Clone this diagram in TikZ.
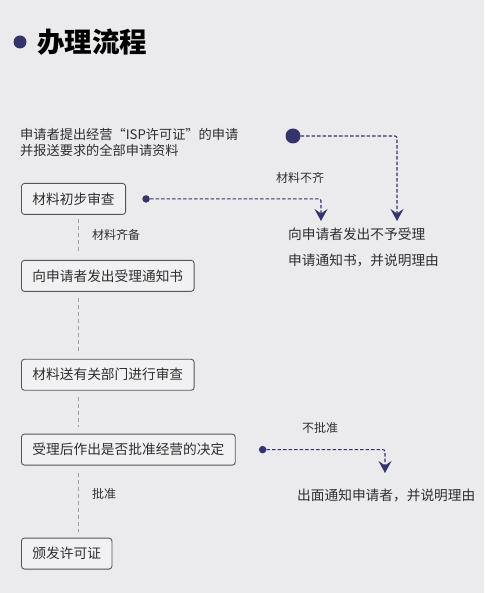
\documentclass[tikz,border=0pt]{standalone}
\usepackage{fontspec}
\setmainfont{Noto Sans CJK SC}
\usetikzlibrary{positioning,arrows.meta}
\definecolor{pagebg}{HTML}{EBEBEE}
\definecolor{ink}{HTML}{34336B}
\definecolor{boxline}{HTML}{555555}
\definecolor{txt}{HTML}{2E2E2E}
\tikzset{
stepbox/.style={
	draw=boxline, rounded corners=3pt, line width=0.9pt,
	fill=white!30!pagebg, text=txt, font=\fontsize{13.7}{16}\selectfont,
	inner xsep=11pt, minimum height=31pt},
note/.style={text=txt, font=\fontsize{12}{14}\selectfont, inner sep=0pt},
plain/.style={text=txt, font=\fontsize{13.7}{26}\selectfont, inner sep=0pt,
	align=left},
flow/.style={draw=gray!75, line width=0.9pt, dash pattern=on 4pt off 3pt},
reject/.style={draw=ink, line width=1.1pt, dash pattern=on 3.5pt off 2pt,
	rounded corners=2pt, -{Stealth[length=12pt,width=13pt,inset=4.5pt]}},
bigdot/.style={circle, fill=ink, minimum size=15pt, inner sep=0pt},
smalldot/.style={circle, fill=ink, minimum size=7.5pt, inner sep=0pt}
}

\begin{document}
\begin{tikzpicture}[x=1pt, y=1pt]
	\fill[pagebg] (0,0) rectangle (484,-593);
	\useasboundingbox (0,0) rectangle (484,-593);
	% title
	\node[circle, fill=ink, minimum size=13pt, inner sep=0pt] (bullet) at (20,-42) {};
	\node[anchor=west, inner sep=0pt, font=\fontsize{27.5}{30}\selectfont\bfseries]
		(title) at (37,-42) {办理流程};
	% application
	\node[plain, anchor=north west, font=\fontsize{13.2}{16}\selectfont]
		(apply) at (20,-128) {申请者提出经营“ISP许可证”的申请\\并报送要求的全部申请资料};
	\node[bigdot] (start) at (293,-136) {};
	% main chain
	\node[stepbox, anchor=north west] (check) at (21,-183) {材料初步审查};
	\node[stepbox, below=45pt of check.south west, anchor=north west] (accept) {向申请者发出受理通知书};
	\node[stepbox, below=67pt of accept.south west, anchor=north west] (review) {材料送有关部门进行审查};
	\node[stepbox, below=43pt of review.south west, anchor=north west] (decide) {受理后作出是否批准经营的决定};
	\node[stepbox, below=72pt of decide.south west, anchor=north west] (license) {颁发许可证};
	\draw[flow] ([xshift=57pt,yshift=-4pt]check.south west) -- ([xshift=57pt,yshift=7pt]accept.north west);
	\draw[flow] ([xshift=57pt,yshift=-6pt]accept.south west) -- ([xshift=57pt,yshift=7pt]review.north west);
	\draw[flow] ([xshift=57pt,yshift=-6pt]review.south west) -- ([xshift=57pt,yshift=7pt]decide.north west);
	\draw[flow] ([xshift=57pt,yshift=-7pt]decide.south west) -- ([xshift=57pt,yshift=6pt]license.north west);
	\node[note, anchor=west] (complete) at (92,-235) {材料齐备};
	\node[note, anchor=west] (approve) at (92,-494) {批准};
	% rejections
	\node[smalldot, right=16pt of check] (missing) {};
	\node[plain, anchor=north west] (refuse) at (288,-228) {向申请者发出不予受理\\申请通知书，并说明理由};
	\coordinate (refuseA) at (321,-221);
	\coordinate (refuseB) at (397,-221);
	\draw[reject] (start) -| (refuseB);
	\draw[reject] (missing) -| (refuseA);
	\node[note] (lack) at (300,-178) {材料不齐};
	\node[smalldot, right=23pt of decide] (nodot) {};
	\coordinate (denyA) at (385,-473);
	\draw[reject] (nodot) -| (denyA);
	\node[note] (deny) at (320,-428) {不批准};
	\node[plain, anchor=west] (notify) at (297,-495) {出面通知申请者，并说明理由};
\end{tikzpicture}
\end{document}
